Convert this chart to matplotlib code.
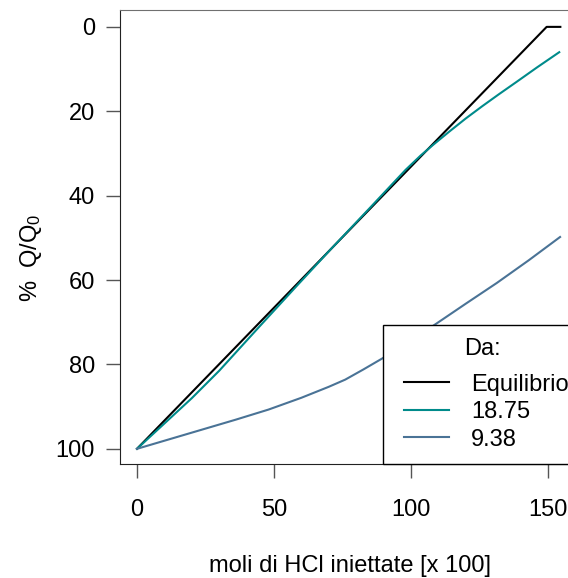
import numpy as np
import matplotlib
matplotlib.use('Agg')
import matplotlib.pyplot as plt
from matplotlib.lines import Line2D
from matplotlib.legend_handler import HandlerLine2D

plt.rcParams['font.family'] = ['Liberation Sans', 'DejaVu Sans']
plt.rcParams['mathtext.fontset'] = 'custom'
plt.rcParams['mathtext.rm'] = 'Liberation Sans'
plt.rcParams['mathtext.it'] = 'Liberation Sans'

# Equilibrio
eq_x = [0, 149.5, 154.5]
eq_y = [100, 0, 0]

# Da 18.75
t_x = [0, 10, 20, 30, 45, 58, 70, 85, 98, 103.5, 108, 114, 120, 126, 132, 138.6, 146, 154.1]
t_y = [100, 94.0, 88.0, 81.5, 70.8, 61.6, 53.2, 42.9, 33.9, 30.5, 28.0, 24.8, 21.7, 18.8, 16.0, 13.0, 9.6, 6.0]

# Da 9.38
b_x = [0, 12, 24, 36, 48, 60, 70, 76, 82.6, 90, 100, 110, 120, 131.3, 143, 154.4]
b_y = [100, 97.7, 95.4, 93.1, 90.7, 87.9, 85.3, 83.6, 81.2, 78.4, 74.4, 70.0, 65.6, 60.7, 55.3, 49.8]

labels = ['Equilibrio', '18.75', '9.38']
colors = ['black', '#008B8B', '#4A7396']

fig = plt.figure(figsize=(5.68, 5.78), dpi=100)
ax = fig.add_axes([120 / 568, 114 / 578, 460.9 / 568, 454 / 578])

for xs, ys, lab, col in zip([eq_x, t_x, b_x], [eq_y, t_y, b_y], labels, colors):
    ax.plot(xs, ys, color=col, lw=1.5, label=lab)

ax.set_xlim(-6.2, 162)
ax.set_ylim(103.6, -4.0)
ax.set_xticks([0, 50, 100, 150])
ax.set_yticks([0, 20, 40, 60, 80, 100])
ax.tick_params(labelsize=17, length=10, width=1, color='#555555', pad=8)
ax.tick_params(axis='x', pad=15.5)

for side in ['left', 'bottom']:
    ax.spines[side].set_color('#222222')
for side in ['top', 'right']:
    ax.spines[side].set_color('#707070')

ax.set_xlabel('moli di HCl iniettate [x 100]', fontsize=17, labelpad=24)
ax.set_ylabel(r'% $\mathregular{\ Q/Q_0}$', fontsize=17)
ax.yaxis.set_label_coords(-0.165, 0.454)

leg = ax.legend(title='Da:', fontsize=17, title_fontsize=17,
                loc='lower left', bbox_to_anchor=(0.5706, 0, 0.4294, 0.306),
                mode='expand', borderaxespad=0, fancybox=False,
                edgecolor='black', framealpha=1, handlelength=2.24,
                handletextpad=0.93, labelspacing=0.23, borderpad=0.57,
                handler_map={Line2D: HandlerLine2D(xpad=0.34)})
leg.get_frame().set_linewidth(1.0)
leg._legend_box.sep = 9.7  # extra gap under the title

plt.savefig('out.png', dpi=100)
